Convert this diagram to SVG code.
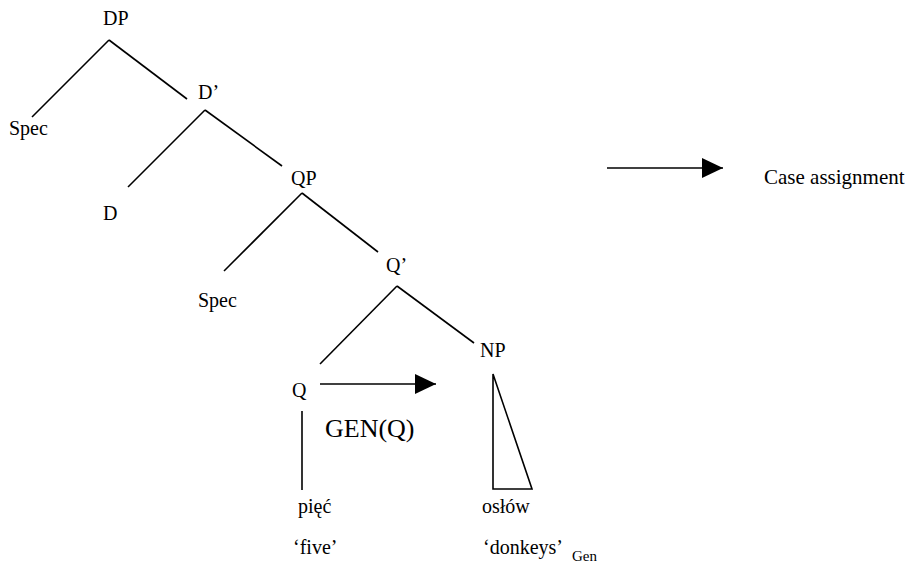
<svg xmlns="http://www.w3.org/2000/svg" width="912" height="565" viewBox="0 0 912 565">
  <defs>
    <style>
      .lbl { font-family: "Liberation Serif", "Times New Roman", serif; font-size: 20px; fill: #000; }
      .big { font-size: 26px; }
      .sub { font-size: 15px; }
      .key { font-size: 21px; }
      .edge { stroke: #000; stroke-width: 1.6; fill: none; stroke-linecap: butt; }
    </style>
    <marker id="head" viewBox="0 0 21 20" refX="21" refY="10" markerWidth="21" markerHeight="20" markerUnits="userSpaceOnUse" orient="auto">
      <path d="M0,0 L21,10 L0,20 Z" fill="#000"/>
    </marker>
  </defs>
  <rect width="912" height="565" fill="#fff"/>

  <!-- tree branches and arrows -->
  <g id="connectors">
    <line class="edge" x1="109" y1="40" x2="32" y2="117"/>
    <line class="edge" x1="109" y1="40" x2="187" y2="99"/>
    <line class="edge" x1="205" y1="110" x2="128" y2="187"/>
    <line class="edge" x1="205" y1="110" x2="282" y2="166"/>
    <line class="edge" x1="302" y1="193" x2="224" y2="271"/>
    <line class="edge" x1="302" y1="193" x2="378" y2="252"/>
    <line class="edge" x1="397" y1="286" x2="320" y2="364"/>
    <line class="edge" x1="397" y1="286" x2="474" y2="343"/>
    <line class="edge" x1="302" y1="411" x2="302" y2="490"/>
    <path class="edge" d="M493,374 L493,489 L532,489 Z"/>
    <line class="edge" x1="320" y1="384" x2="436" y2="384" marker-end="url(#head)"/>
    <line class="edge" x1="607" y1="168" x2="723" y2="168" marker-end="url(#head)"/>
  </g>

  <g id="dp"><text class="lbl" x="103" y="25">DP</text></g>
  <g id="spec1"><text class="lbl" x="9" y="135">Spec</text></g>
  <g id="dbar"><text class="lbl" x="198" y="99">D’</text></g>
  <g id="d"><text class="lbl" x="103" y="220">D</text></g>
  <g id="qp"><text class="lbl" x="291" y="185">QP</text></g>
  <g id="spec2"><text class="lbl" x="198" y="307">Spec</text></g>
  <g id="qbar"><text class="lbl" x="386" y="272">Q’</text></g>
  <g id="q"><text class="lbl" x="292" y="397">Q</text></g>
  <g id="np"><text class="lbl" x="480" y="357">NP</text></g>
  <g id="gen"><text class="lbl big" x="325" y="437">GEN(Q)</text></g>
  <g id="piec">
    <text class="lbl" x="298" y="513">pięć</text>
    <text class="lbl" x="293" y="554">‘five’</text>
  </g>
  <g id="oslow">
    <text class="lbl" x="482" y="513">osłów</text>
    <text class="lbl" x="483" y="554">‘donkeys’</text>
    <text class="lbl sub" x="572" y="561">Gen</text>
  </g>
  <g id="legend"><text class="lbl key" x="764" y="184">Case assignment</text></g>
</svg>
